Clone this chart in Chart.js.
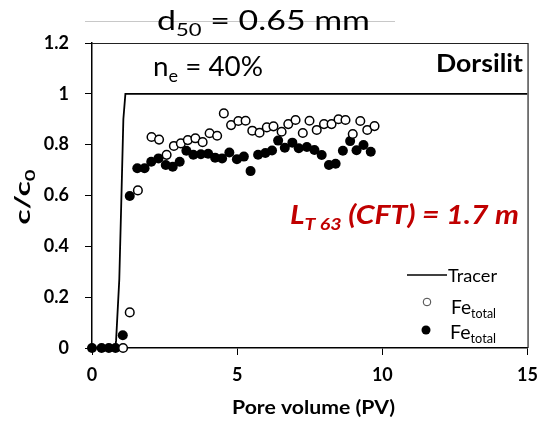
<!DOCTYPE html>
<html>
<head>
<meta charset="utf-8">
<script src="https://cdn.jsdelivr.net/npm/chart.js@4.4.1/dist/chart.umd.min.js"></script>
<style>
html,body{margin:0;padding:0;background:#fff;}
#wrap{width:547px;height:422px;position:relative;}
</style>
</head>
<body>
<div id="wrap"><canvas id="c" width="547" height="422"></canvas></div>
<script>
// ---- data ----
const tracerX = [0, 0.8, 0.83, 0.94, 1.01, 1.08, 1.15, 15];
const tracerY = [0, 0, 0.03, 0.27, 0.58, 0.9, 1.0, 1.0];

const openX = [1.07, 1.3, 1.58, 2.05, 2.31, 2.57, 2.82, 3.06, 3.30, 3.56, 3.81, 4.05, 4.31, 4.54, 4.79, 5.04, 5.29, 5.52, 5.77, 6.02, 6.25, 6.53, 6.76, 7.01, 7.26, 7.49, 7.74, 7.99, 8.25, 8.49, 8.73, 8.98, 9.24, 9.48, 9.73];
const openY = [0, 0.14, 0.62, 0.83, 0.82, 0.76, 0.795, 0.805, 0.818, 0.825, 0.81, 0.845, 0.835, 0.923, 0.877, 0.893, 0.894, 0.855, 0.847, 0.868, 0.872, 0.851, 0.881, 0.897, 0.846, 0.894, 0.858, 0.881, 0.881, 0.90, 0.897, 0.842, 0.893, 0.858, 0.873];

const filledX = [0, 0.33, 0.58, 0.81, 1.06, 1.30, 1.56, 1.81, 2.04, 2.29, 2.54, 2.78, 3.02, 3.25, 3.49, 3.75, 4.0, 4.24, 4.48, 4.73, 4.99, 5.23, 5.46, 5.72, 5.97, 6.2, 6.41, 6.64, 6.9, 7.12, 7.4, 7.66, 7.91, 8.16, 8.39, 8.64, 8.89, 9.11, 9.35, 9.6];
const filledY = [0, 0, 0, 0, 0.05, 0.598, 0.707, 0.707, 0.733, 0.746, 0.72, 0.713, 0.733, 0.776, 0.76, 0.762, 0.764, 0.749, 0.746, 0.769, 0.743, 0.753, 0.696, 0.76, 0.767, 0.777, 0.816, 0.788, 0.808, 0.786, 0.791, 0.779, 0.759, 0.72, 0.725, 0.776, 0.814, 0.778, 0.799, 0.772];

const xTicks = [0, 5, 10, 15];
const yTicks = [0, 0.2, 0.4, 0.6, 0.8, 1, 1.2];

const toPts = (xs, ys) => xs.map((x, i) => ({x: x, y: ys[i]}));

const FAM = 'Lato, "Open Sans", sans-serif';

function partsWidth(ctx, parts, size, style) {
  let w = 0;
  for (const [t, k] of parts) {
    const s = k === 'sub' ? size * 0.65 : size;
    ctx.font = style + ' ' + s + 'px ' + FAM;
    w += ctx.measureText(t).width;
  }
  return w;
}
// draw text (with subscripts) at a font size, stretched horizontally to target width
function drawParts(ctx, parts, x, y, targetW, style, color, size) {
  const w = partsWidth(ctx, parts, size, style);
  const sx = targetW / w;
  ctx.save();
  ctx.translate(x, y);
  ctx.scale(sx, 1);
  ctx.fillStyle = color;
  ctx.textBaseline = 'alphabetic';
  ctx.textAlign = 'left';
  let cx = 0;
  for (const [t, k] of parts) {
    const s = k === 'sub' ? size * 0.65 : size;
    ctx.font = style + ' ' + s + 'px ' + FAM;
    const dy = k === 'sub' ? size * 0.22 : 0;
    ctx.fillText(t, cx, dy);
    cx += ctx.measureText(t).width;
  }
  ctx.restore();
}

const decor = {
  id: 'decor',
  afterDraw(chart) {
    const ctx = chart.ctx;
    const a = chart.chartArea;
    ctx.save();
    // frame
    ctx.strokeStyle = '#222';
    ctx.lineWidth = 1.2;
    ctx.beginPath();
    ctx.moveTo(a.left, a.top + 0.5);
    ctx.lineTo(a.right + 0.5, a.top + 0.5);
    ctx.lineTo(a.right + 0.5, a.bottom);
    ctx.stroke();
    // faint line at top
    ctx.strokeStyle = '#c8c8c8';
    ctx.lineWidth = 1;
    ctx.beginPath();
    ctx.moveTo(85, 21.5);
    ctx.lineTo(395, 21.5);
    ctx.stroke();

    drawParts(ctx, [['d','n'],['50','sub'],[' = 0.65 mm','n']], 157, 30, 213, 'normal', '#000', 27);
    drawParts(ctx, [['n','n'],['e','sub'],[' = 40%','n']], 153, 76, 110, 'normal', '#000', 27);
    drawParts(ctx, [['Dorsilit','n']], 436, 72, 87, 'bold', '#000', 24);
    drawParts(ctx, [['L','n'],['T 63','sub'],[' (CFT) = 1.7 m','n']], 290, 224, 229, 'italic bold', '#c00000', 27);

    // legend
    ctx.strokeStyle = '#000';
    ctx.lineWidth = 1.6;
    ctx.beginPath();
    ctx.moveTo(407, 275);
    ctx.lineTo(447, 275);
    ctx.stroke();
    drawParts(ctx, [['Tracer','n']], 448, 282, 49, 'normal', '#000', 18);
    ctx.beginPath();
    ctx.arc(427, 302, 3.8, 0, Math.PI * 2);
    ctx.fillStyle = '#fff';
    ctx.fill();
    ctx.lineWidth = 1;
    ctx.strokeStyle = '#444';
    ctx.stroke();
    drawParts(ctx, [['Fe','n'],['total','sub']], 451, 314, 45, 'normal', '#000', 20);
    ctx.beginPath();
    ctx.arc(426, 330, 4.5, 0, Math.PI * 2);
    ctx.fillStyle = '#000';
    ctx.fill();
    drawParts(ctx, [['Fe','n'],['total','sub']], 450, 339, 46, 'normal', '#000', 20);

    // axis titles
    drawParts(ctx, [['Pore volume (PV)','n']], 232, 414, 163, 'bold', '#000', 18.5);

    ctx.translate(30, 197);
    ctx.rotate(-Math.PI / 2);
    drawParts(ctx, [['c/c','n'],['0','sub']], -27.5, 0, 55, 'bold', '#000', 21);
    ctx.restore();
  }
};

new Chart(document.getElementById('c'), {
  type: 'scatter',
  data: {
    datasets: [
      {
        label: 'Fe total (open)',
        data: toPts(openX, openY),
        pointStyle: 'circle',
        pointRadius: 4.3,
        pointBackgroundColor: '#fff',
        pointBorderColor: '#000',
        pointBorderWidth: 1.5,
        showLine: false,
        clip: false
      },
      {
        label: 'Fe total (filled)',
        data: toPts(filledX, filledY),
        pointStyle: 'circle',
        pointRadius: 5,
        pointBackgroundColor: '#000',
        pointBorderColor: '#000',
        pointBorderWidth: 0,
        showLine: false,
        clip: false
      },
      {
        label: 'Tracer',
        data: toPts(tracerX, tracerY),
        showLine: true,
        borderColor: '#000',
        borderWidth: 1.8,
        pointRadius: 0,
        tension: 0,
        fill: false
      }
    ]
  },
  options: {
    responsive: false,
    animation: false,
    devicePixelRatio: 1,
    layout: { padding: { top: 43, right: 10, left: 0, bottom: 0 } },
    plugins: { legend: { display: false }, tooltip: { enabled: false } },
    scales: {
      x: {
        type: 'linear',
        min: 0, max: 15,
        afterFit(scale) { scale.height = 74; },
        afterBuildTicks(scale) { scale.ticks = xTicks.map(v => ({value: v})); },
        border: { display: true, color: '#000', width: 1.5 },
        grid: { drawOnChartArea: false, drawTicks: true, tickLength: 7, color: '#000', lineWidth: 1 },
        ticks: {
          padding: 9,
          color: '#000',
          font: { family: FAM, size: 18, weight: 'bold' },
          callback: v => String(v),
          maxRotation: 0
        }
      },
      y: {
        type: 'linear',
        min: 0, max: 1.2,
        afterFit(scale) { scale.width = 92; },
        afterBuildTicks(scale) { scale.ticks = yTicks.map(v => ({value: v})); },
        border: { display: true, color: '#000', width: 1.5 },
        grid: { drawOnChartArea: false, drawTicks: true, tickLength: 7, color: '#000', lineWidth: 1 },
        ticks: {
          padding: 16,
          color: '#000',
          font: { family: FAM, size: 18, weight: 'bold' },
          callback: v => String(+v.toFixed(1))
        }
      }
    }
  },
  plugins: [decor]
});
</script>
</body>
</html>
